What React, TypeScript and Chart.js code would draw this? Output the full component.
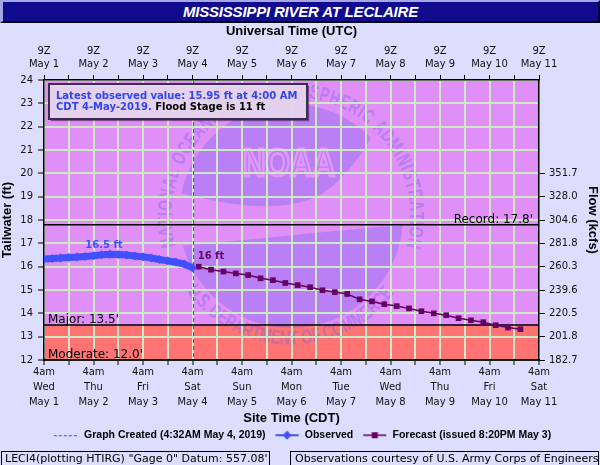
import React, { useEffect, useRef } from 'react';
import { Chart, registerables } from 'chart.js';

Chart.register(...registerables);

// ---------- data ----------
const dayNames = ['Wed', 'Thu', 'Fri', 'Sat', 'Sun', 'Mon', 'Tue', 'Wed', 'Thu', 'Fri', 'Sat'];
const dateLabels = ['May 1', 'May 2', 'May 3', 'May 4', 'May 5', 'May 6', 'May 7', 'May 8', 'May 9', 'May 10', 'May 11'];
const localHourLabel = '4am';
const utcHourLabel = '9Z';

// hours after 4am CDT May 1
const obsHours = [0, 4, 8, 12, 16, 20, 24, 28, 32, 36, 40, 44, 48, 52, 56, 60, 64, 68, 72];
const obsStage = [16.33, 16.35, 16.37, 16.39, 16.41, 16.44, 16.47, 16.51, 16.53, 16.52, 16.5, 16.46, 16.42, 16.37, 16.31, 16.25, 16.19, 16.11, 15.95];

const fcstHours = [75, 81, 87, 93, 99, 105, 111, 117, 123, 129, 135, 141, 147, 153, 159, 165, 171, 177, 183, 189, 195, 201, 207, 213, 219, 225, 231];
const fcstStage = [16.0, 15.87, 15.79, 15.71, 15.64, 15.5, 15.42, 15.3, 15.21, 15.12, 14.99, 14.91, 14.83, 14.6, 14.51, 14.39, 14.31, 14.21, 14.09, 14.0, 13.92, 13.79, 13.7, 13.62, 13.49, 13.39, 13.32];

const flowTickStages = [12, 13, 14, 15, 16, 17, 18, 19, 20];
const flowTickLabels = ['182.7', '201.8', '220.5', '239.6', '260.3', '281.8', '304.6', '328.0', '351.7'];

const floodNames = ['Record', 'Major', 'Moderate'];
const floodStages = [17.8, 13.5, 12.0];
const floodLabels = ["Record: 17.8'", "Major: 13.5'", "Moderate: 12.0'"];

const createdHour = 72.53;
const crestObsLabel = '16.5 ft';
const crestFcstLabel = '16 ft';
const noteLine1 = 'Latest observed value: 15.95 ft at 4:00 AM';
const noteLine2a = 'CDT 4-May-2019.';
const noteLine2b = 'Flood Stage is 11 ft';
const legendTexts = ['Graph Created (4:32AM May 4, 2019)', 'Observed', 'Forecast (issued 8:20PM May 3)'];

// ---------- styles ----------
const OBS_COLOR = '#4050FF';
const FCST_COLOR = '#650065';
const GRID_COLOR = 'rgb(206,232,198)';
const UPPER_FILL = '#E08EF8';
const MAJOR_FILL = '#FF7373';
const TINT = 'rgba(105,95,235,0.32)';
const RING_TINT = 'rgba(105,95,235,0.36)';

function arcText(ctx: CanvasRenderingContext2D, text: string, cx: number, cy: number, R: number, a0: number, a1: number, clockwise: boolean, sx: number) {
  const chars = Array.from(text);
  const widths = chars.map((c) => ctx.measureText(c).width * sx);
  const total = widths.reduce((s, w) => s + w, 0);
  const span = Math.abs(a1 - a0) * R;
  const gap = (span - total) / (chars.length - 1);
  let pos = 0;
  ctx.textAlign = 'center';
  ctx.textBaseline = 'middle';
  chars.forEach((c, i) => {
    const mid = pos + widths[i] / 2;
    const ang = clockwise ? a0 + mid / R : a0 - mid / R;
    ctx.save();
    ctx.translate(cx + R * Math.cos(ang), cy + R * Math.sin(ang));
    ctx.rotate(clockwise ? ang + Math.PI / 2 : ang - Math.PI / 2);
    ctx.scale(sx, 1);
    ctx.fillText(c, 0, 0);
    ctx.restore();
    pos += widths[i] + gap;
  });
}

function drawWatermark(ctx: CanvasRenderingContext2D, a: any) {
  const cx = a.left + a.width * 0.499;
  const cy = a.top + a.height * 0.486;
  const r = a.height * 0.4;
  const P = (u: number, v: number): [number, number] => [cx + u * r, cy + v * r];
  ctx.save();
  ctx.fillStyle = TINT;
  ctx.beginPath();
  ctx.arc(cx, cy, r, 0, Math.PI * 2);
  ctx.fill();
  // lighter gull swoosh
  ctx.save();
  ctx.beginPath();
  ctx.arc(cx, cy, r + 0.5, 0, Math.PI * 2);
  ctx.clip();
  ctx.fillStyle = UPPER_FILL;
  ctx.beginPath();
  ctx.moveTo(...P(-1.15, -0.25));
  ctx.bezierCurveTo(...P(-0.6, -0.1), ...P(-0.1, 0.0), ...P(0.28, -0.2));
  ctx.quadraticCurveTo(...P(0.58, -0.4), ...P(0.82, -0.9));
  ctx.lineTo(...P(1.2, -0.9));
  ctx.lineTo(...P(1.2, 0.07));
  ctx.bezierCurveTo(...P(0.6, 0.1), ...P(0.0, 0.18), ...P(-1.15, 0.28));
  ctx.closePath();
  ctx.fill();
  ctx.restore();
  // NOAA letters
  ctx.save();
  ctx.translate(cx - 2, cy - r * 0.465);
  ctx.scale(0.8, 1);
  ctx.font = 'bold 39px "Liberation Sans"';
  ctx.textAlign = 'center';
  ctx.textBaseline = 'middle';
  ctx.strokeStyle = 'rgba(232,156,250,0.85)';
  ctx.lineWidth = 3;
  ctx.strokeText('NOAA', 0, 1);
  ctx.restore();
  // ring text
  ctx.fillStyle = RING_TINT;
  ctx.font = 'bold 20px "Liberation Sans"';
  const d = Math.PI / 180;
  arcText(ctx, 'NATIONAL OCEANIC AND ATMOSPHERIC ADMINISTRATION', cx, cy, r + 13, 165.5 * d, 374.8 * d, true, 0.68);
  arcText(ctx, 'U.S. DEPARTMENT OF COMMERCE', cx, cy, r + 11, 144.5 * d, 36.6 * d, false, 0.72);
  ctx.restore();
}

function makeLegendImages(): HTMLCanvasElement[] {
  const mk = (draw: (c: CanvasRenderingContext2D) => void) => {
    const cv = document.createElement('canvas');
    cv.width = 30;
    cv.height = 10;
    const c = cv.getContext('2d')!;
    draw(c);
    return cv;
  };
  const created = mk((c) => {
    c.strokeStyle = '#3344FF';
    c.lineWidth = 1;
    c.setLineDash([3, 2]);
    c.beginPath();
    c.moveTo(5, 5.5);
    c.lineTo(30, 5.5);
    c.stroke();
  });
  const observed = mk((c) => {
    c.strokeStyle = OBS_COLOR;
    c.lineWidth = 2;
    c.beginPath();
    c.moveTo(6, 5);
    c.lineTo(29, 5);
    c.stroke();
    c.fillStyle = OBS_COLOR;
    c.beginPath();
    c.moveTo(13, 5);
    c.lineTo(17.5, 0.5);
    c.lineTo(22, 5);
    c.lineTo(17.5, 9.5);
    c.closePath();
    c.fill();
  });
  const forecast = mk((c) => {
    c.strokeStyle = FCST_COLOR;
    c.lineWidth = 1.5;
    c.beginPath();
    c.moveTo(6, 5);
    c.lineTo(29, 5);
    c.stroke();
    c.fillStyle = FCST_COLOR;
    c.fillRect(14.5, 2, 6, 6);
  });
  return [created, observed, forecast];
}

const hydroPlugin = {
  id: 'hydro',
  beforeDraw(chart: any) {
    const { ctx, chartArea: a, scales } = chart;
    const y = scales.y;
    ctx.save();
    ctx.fillStyle = UPPER_FILL;
    ctx.fillRect(a.left, a.top, a.width, a.height);
    const yMaj = y.getPixelForValue(floodStages[1]);
    ctx.fillStyle = MAJOR_FILL;
    ctx.fillRect(a.left, yMaj, a.width, a.bottom - yMaj);
    ctx.beginPath();
    ctx.rect(a.left, a.top, a.width, a.height);
    ctx.clip();
    drawWatermark(ctx, a);
    ctx.restore();
  },
  beforeDatasetsDraw(chart: any) {
    const { ctx, chartArea: a, scales } = chart;
    const y = scales.y;
    const x = scales.x;
    ctx.save();
    ctx.strokeStyle = '#000';
    ctx.lineWidth = 1.5;
    ctx.font = '12px "DejaVu Sans"';
    ctx.fillStyle = '#000';
    ctx.textBaseline = 'alphabetic';
    floodNames.forEach((name, i) => {
      const py = y.getPixelForValue(floodStages[i]);
      ctx.beginPath();
      ctx.moveTo(a.left, py);
      ctx.lineTo(a.right, py);
      ctx.stroke();
      if (name === 'Record') {
        ctx.textAlign = 'right';
        ctx.fillText(floodLabels[i], a.right - 6, py - 2);
      } else {
        ctx.textAlign = 'left';
        ctx.fillText(floodLabels[i], a.left + 4, py - 2);
      }
    });
    const cxp = x.getPixelForValue(createdHour);
    ctx.strokeStyle = '#3344FF';
    ctx.lineWidth = 1;
    ctx.setLineDash([4, 3]);
    ctx.beginPath();
    ctx.moveTo(cxp, a.top);
    ctx.lineTo(cxp, a.bottom);
    ctx.stroke();
    ctx.restore();
  },
  afterDatasetsDraw(chart: any) {
    const { ctx, chartArea: a, scales } = chart;
    const x = scales.x;
    const y = scales.y;
    ctx.save();
    // crest labels
    let iMax = 0;
    obsStage.forEach((v, i) => { if (v > obsStage[iMax]) iMax = i; });
    ctx.font = 'bold 10px "DejaVu Sans"';
    ctx.textBaseline = 'middle';
    ctx.textAlign = 'center';
    ctx.fillStyle = OBS_COLOR;
    ctx.fillText(crestObsLabel, x.getPixelForValue(obsHours[iMax]) - 6, y.getPixelForValue(obsStage[iMax]) - 9);
    ctx.textAlign = 'left';
    ctx.fillStyle = FCST_COLOR;
    ctx.fillText(crestFcstLabel, x.getPixelForValue(fcstHours[0]) - 1, y.getPixelForValue(fcstStage[0]) - 10);
    // note box
    const bx = a.left + 5, by = a.top + 4, bw = 258, bh = 35;
    ctx.shadowColor = 'rgba(40,20,60,0.55)';
    ctx.shadowOffsetX = 2;
    ctx.shadowOffsetY = 2;
    ctx.shadowBlur = 1;
    ctx.fillStyle = 'rgba(231,214,241,0.96)';
    ctx.fillRect(bx, by, bw, bh);
    ctx.shadowColor = 'rgba(0,0,0,0)';
    ctx.strokeStyle = '#3E2B50';
    ctx.lineWidth = 2;
    ctx.strokeRect(bx, by, bw, bh);
    ctx.font = 'bold 10px "DejaVu Sans"';
    ctx.textAlign = 'left';
    ctx.textBaseline = 'middle';
    ctx.fillStyle = '#3344EE';
    ctx.fillText(noteLine1, bx + 7, by + 12);
    ctx.fillText(noteLine2a, bx + 7, by + 23);
    const w = ctx.measureText(noteLine2a + ' ').width;
    ctx.fillStyle = '#000';
    ctx.fillText(noteLine2b, bx + 7 + w, by + 23);
    ctx.restore();
  },
};

const axisTitleFont = { family: 'Liberation Sans', size: 13, weight: 'bold' as const };
const tickFont = { family: 'DejaVu Sans', size: 10 };

export default function App() {
  const ref = useRef<HTMLCanvasElement>(null);

  useEffect(() => {
    const canvas = ref.current;
    if (!canvas) return;
    Chart.defaults.font.family = 'DejaVu Sans';
    const imgs = makeLegendImages();
    const chart = new Chart(canvas, {
      type: 'line',
      data: {
        datasets: [
          {
            label: 'Observed',
            data: obsHours.map((h, i) => ({ x: h, y: obsStage[i] })),
            borderColor: OBS_COLOR,
            backgroundColor: OBS_COLOR,
            borderWidth: 7,
            pointStyle: 'rectRot',
            pointRadius: 4.5,
            pointBorderWidth: 0,
            pointBackgroundColor: OBS_COLOR,
            xAxisID: 'x',
            yAxisID: 'y',
          },
          {
            label: 'Forecast',
            data: fcstHours.map((h, i) => ({ x: h, y: fcstStage[i] })),
            borderColor: FCST_COLOR,
            backgroundColor: FCST_COLOR,
            borderWidth: 1.5,
            pointStyle: 'rect',
            pointRadius: 4,
            pointBorderWidth: 0,
            pointBackgroundColor: FCST_COLOR,
            xAxisID: 'x',
            yAxisID: 'y',
          },
        ],
      },
      options: {
        responsive: false,
        maintainAspectRatio: false,
        animation: false,
        events: [],
        layout: { padding: { top: 22, bottom: 14.5, left: 0, right: 0 } },
        plugins: {
          title: { display: false },
          tooltip: { enabled: false },
          legend: {
            display: true,
            position: 'bottom',
            onClick: () => {},
            labels: {
              usePointStyle: true,
              pointStyleWidth: 30,
              padding: 4,
              color: '#000',
              font: { family: 'Liberation Sans', size: 10.5, weight: 'bold' },
              generateLabels: () =>
                legendTexts.map((t, i) => ({
                  text: t,
                  pointStyle: imgs[i] as any,
                  fillStyle: 'rgba(0,0,0,0)',
                  strokeStyle: 'rgba(0,0,0,0)',
                  lineWidth: 0,
                  hidden: false,
                  index: i,
                })),
            },
          },
        },
        scales: {
          x: {
            type: 'linear',
            position: 'bottom',
            min: 0,
            max: 240,
            ticks: {
              stepSize: 12,
              autoSkip: false,
              maxRotation: 0,
              minRotation: 0,
              padding: 0,
              color: '#111',
              font: { ...tickFont, lineHeight: '15px' },
              callback: (v: any) => {
                const n = Number(v);
                if (n % 24 !== 0) return '';
                const i = n / 24;
                return [localHourLabel, dayNames[i], dateLabels[i]];
              },
            },
            grid: { color: GRID_COLOR, lineWidth: 2, tickColor: '#000', tickLength: 5, tickWidth: 1 },
            border: { color: '#000', width: 1.5 },
            title: { display: true, text: 'Site Time (CDT)', color: '#000', font: axisTitleFont, padding: { top: 0, bottom: 0 } },
            afterFit: (s: any) => { s.height = 66; },
          },
          x2: {
            type: 'linear',
            position: 'top',
            min: 0,
            max: 240,
            ticks: {
              stepSize: 12,
              autoSkip: false,
              maxRotation: 0,
              minRotation: 0,
              padding: 4,
              color: '#111',
              font: { ...tickFont, lineHeight: '13px' },
              callback: (v: any) => {
                const n = Number(v);
                if (n % 24 !== 0) return '';
                const i = n / 24;
                return [utcHourLabel, dateLabels[i]];
              },
            },
            grid: { drawOnChartArea: false, tickColor: '#000', tickLength: 5, tickWidth: 1 },
            border: { color: '#000', width: 1.5 },
            title: { display: true, text: 'Universal Time (UTC)', color: '#000', font: axisTitleFont, padding: { top: 2, bottom: 0 } },
            afterFit: (s: any) => { s.height = 58; },
          },
          y: {
            type: 'linear',
            position: 'left',
            min: 12,
            max: 24,
            ticks: { stepSize: 1, padding: 5, color: '#111', font: tickFont },
            grid: { color: GRID_COLOR, lineWidth: 2, tickColor: '#000', tickLength: 6, tickWidth: 1 },
            border: { color: '#000', width: 1.5 },
            title: { display: true, text: 'Tailwater (ft)', color: '#000', font: axisTitleFont, padding: { top: 0, bottom: 0 } },
            afterFit: (s: any) => { s.width = 44; },
          },
          y2: {
            type: 'linear',
            position: 'right',
            min: 12,
            max: 24,
            afterBuildTicks: (s: any) => { s.ticks = flowTickStages.map((v) => ({ value: v })); },
            ticks: {
              padding: 4,
              color: '#111',
              font: tickFont,
              callback: (v: any) => {
                const i = flowTickStages.indexOf(Number(v));
                return i >= 0 ? flowTickLabels[i] : '';
              },
            },
            grid: { drawOnChartArea: false, tickColor: '#000', tickLength: 6, tickWidth: 1 },
            border: { color: '#000', width: 1.5 },
            title: { display: true, text: 'Flow (kcfs)', color: '#000', font: axisTitleFont, padding: { top: 0, bottom: 0 } },
            afterFit: (s: any) => { s.width = 61; },
          },
        },
      } as any,
      plugins: [hydroPlugin as any],
    });
    return () => chart.destroy();
  }, []);

  return (
    <div style={{ position: 'absolute', left: 0, top: 0, width: 600, height: 465, background: '#DDDDFF', overflow: 'hidden' }}>
      <canvas ref={ref} width={600} height={465} style={{ position: 'absolute', left: 0, top: 0, width: 600, height: 465 }} />
      <div
        style={{
          position: 'absolute', left: 0, top: 0, width: 600, height: 23, boxSizing: 'border-box',
          background: '#100A8E', borderTop: '2px solid #A6A6E6', borderLeft: '3px solid #A6A6E6',
          borderBottom: '2px solid #000010', borderRight: '2px solid #000030',
          color: '#FFFFFF', font: 'italic bold 15px "Liberation Sans", Arial, sans-serif',
          textAlign: 'center', lineHeight: '19px', letterSpacing: '-0.2px',
        }}
      >
        MISSISSIPPI RIVER AT LECLAIRE
      </div>
      <div
        style={{
          position: 'absolute', left: 1, top: 451, width: 269, height: 18, boxSizing: 'border-box',
          border: '1px solid #000', font: '11px "DejaVu Sans", sans-serif', lineHeight: '14px',
          paddingLeft: 3, whiteSpace: 'nowrap', color: '#000',
        }}
      >
        LECI4(plotting HTIRG) "Gage 0" Datum: 557.08'
      </div>
      <div
        style={{
          position: 'absolute', left: 290, top: 451, width: 309, height: 18, boxSizing: 'border-box',
          border: '1px solid #000', font: '11px "DejaVu Sans", sans-serif', lineHeight: '14px',
          paddingLeft: 4, whiteSpace: 'nowrap', color: '#000',
        }}
      >
        Observations courtesy of U.S. Army Corps of Engineers
      </div>
    </div>
  );
}
